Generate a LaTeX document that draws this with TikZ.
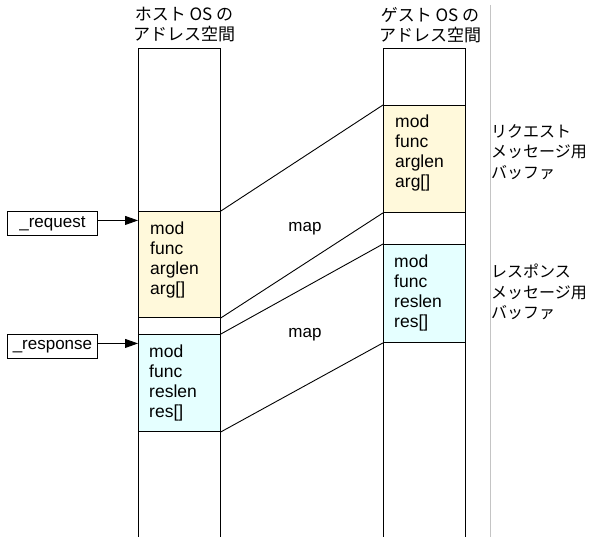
\documentclass[tikz,border=0pt]{standalone}
\usepackage{fontspec}
\setmainfont{Liberation Sans}
\newfontfamily\jp{Noto Sans CJK JP}
\usetikzlibrary{arrows.meta}
\definecolor{reqfill}{HTML}{FFF9DB}
\definecolor{resfill}{HTML}{E5FFFF}
\definecolor{sepgray}{HTML}{C4C4C4}
\tikzset{
  outline/.style={draw=black, line width=0.9pt},
  blk/.style={outline, rectangle, inner sep=0pt, minimum width=82pt, anchor=north west},
  fields/.style={anchor=base west, align=left, inner sep=0pt, font=\fontsize{17.5}{20}\selectfont},
  title/.style={align=center, inner sep=0pt, font=\jp\fontsize{17}{20}\selectfont},
  note/.style={anchor=west, align=left, inner sep=0pt, font=\jp\fontsize{16}{20.5}\selectfont},
  ptr/.style={outline, rectangle, inner sep=0pt, minimum width=90pt, minimum height=24pt,
              anchor=north west, font=\fontsize{17}{20}\selectfont},
  maplink/.style={draw=black, line width=0.9pt},
  ptrarrow/.style={draw=black, line width=0.9pt, -{Triangle[length=13pt,width=9pt]}},
  lbl/.style={inner sep=0pt, font=\fontsize{17}{20}\selectfont}
}
\begin{document}
\begin{tikzpicture}[x=1pt, y=-1pt]
\useasboundingbox (0,0) rectangle (590,537);

% separator on the right
\coordinate (sepT) at (490,5);
\coordinate (sepB) at (490,537);
\draw[sepgray, line width=0.9pt] (sepT) -- (sepB);

% address space columns (open at the bottom)
\coordinate (hBL) at (138,537); \coordinate (hTL) at (138,48);
\coordinate (hTR) at (220,48);  \coordinate (hBR) at (220,537);
\coordinate (gBL) at (383,537); \coordinate (gTL) at (383,48);
\coordinate (gTR) at (465,48);  \coordinate (gBR) at (465,537);
\draw[outline] (hBL) -- (hTL) -- (hTR) -- (hBR);
\draw[outline] (gBL) -- (gTL) -- (gTR) -- (gBR);

% column titles
\node[title] (htitle) at (184,25) {ホスト OS の\\アドレス空間};
\node[title] (gtitle) at (430,25) {ゲスト OS の\\アドレス空間};

% message buffers
\node[blk, fill=reqfill, minimum height=106pt] (hreq) at (138,211) {};
\node[blk, fill=resfill, minimum height=97pt]  (hres) at (138,334) {};
\node[blk, fill=reqfill, minimum height=107pt] (greq) at (383,105) {};
\node[blk, fill=resfill, minimum height=98pt]  (gres) at (383,244) {};

% field lists (anchored at the baseline of the last line)
\node[fields] (hreqtxt) at (150,295) {mod\\func\\arglen\\arg[]};
\node[fields] (hrestxt) at (149,418) {mod\\func\\reslen\\res[]};
\node[fields] (greqtxt) at (395,188) {mod\\func\\arglen\\arg[]};
\node[fields] (grestxt) at (394,328) {mod\\func\\reslen\\res[]};

% mappings between the two address spaces
\draw[maplink] (hreq.north east) -- (greq.north west);
\draw[maplink] (hreq.south east) -- (greq.south west);
\draw[maplink] (hres.north east) -- (gres.north west);
\draw[maplink] (hres.south east) -- (gres.south west);
\node[lbl] (map1) at (305,229) {map};
\node[lbl] (map2) at (305,335) {map};

% pointers into the host buffers
\node[ptr] (preq) at (7,211) {\_request};
\node[ptr] (pres) at (7,334) {\_response};
\draw[ptrarrow] ([yshift=3pt]preq.east) -- ([yshift=3pt]preq.east -| hreq.west);
\draw[ptrarrow] ([yshift=3pt]pres.east) -- ([yshift=3pt]pres.east -| hres.west);

% buffer descriptions
\node[note] (reqnote) at (491,152) {リクエスト\\メッセージ用\\バッファ};
\node[note] (resnote) at (491,292) {レスポンス\\メッセージ用\\バッファ};
\end{tikzpicture}
\end{document}
